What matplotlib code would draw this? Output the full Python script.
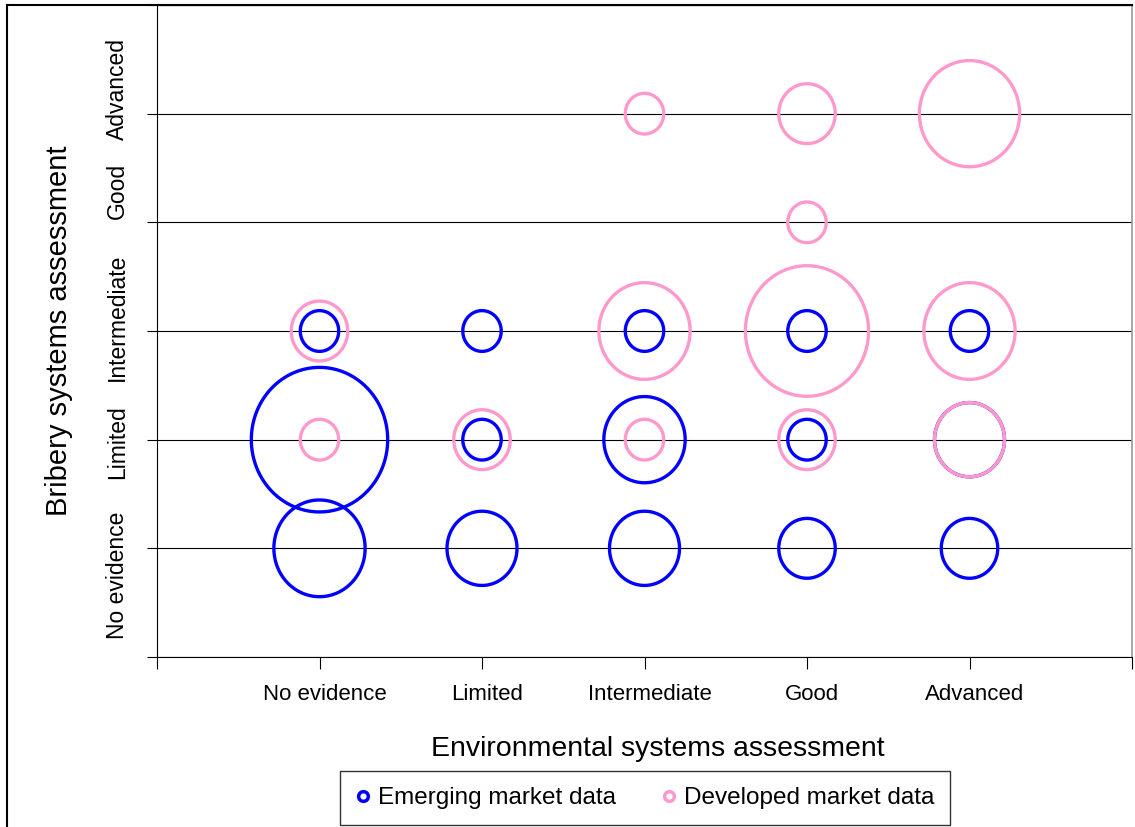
import numpy as np
import matplotlib
matplotlib.use("Agg")
import matplotlib.pyplot as plt
from matplotlib.path import Path
from matplotlib.lines import Line2D
import matplotlib.transforms as mtransforms

plt.rcParams['font.family'] = ['Liberation Sans', 'DejaVu Sans']

levels = ["No evidence", "Limited", "Intermediate", "Good", "Advanced"]

# emerging market data: environmental level, bribery level, count
em_x = [1, 1, 1, 2, 2, 2, 3, 3, 3, 4, 4, 4, 5, 5, 5]
em_y = [1, 2, 3, 1, 2, 3, 1, 2, 3, 1, 2, 3, 1, 2, 3]
em_n = [5, 11, 1, 3, 1, 1, 3, 4, 1, 2, 1, 1, 2, 3, 1]

# developed market data
dv_x = [1, 1, 2, 3, 3, 3, 4, 4, 4, 4, 5, 5, 5]
dv_y = [2, 3, 2, 2, 3, 5, 2, 3, 4, 5, 2, 3, 5]
dv_n = [1, 2, 2, 1, 5, 1, 2, 9, 1, 2, 3, 5, 6]

blue = "#0000FF"
pink = "#FF99CC"

# slightly tall ellipse, like the original rendering
stretch = 1.06
t = np.linspace(0, 2 * np.pi, 120)
ell = Path(np.column_stack([np.cos(t), stretch * np.sin(t)]), closed=True)


def bubble_size(n):
    n = np.asarray(n, dtype=float)
    r_px = np.sqrt(428 * n - 59)          # horizontal radius in pixels
    d_pt = 2 * stretch * r_px * 0.72      # vertical diameter in points
    return d_pt ** 2


fig = plt.figure(figsize=(11.35, 8.27), dpi=100)
ax = fig.add_axes([157 / 1135, 1 - 657 / 827, (1132 - 157) / 1135, (657 - 5) / 827])

ax.scatter(em_x, em_y, s=bubble_size(em_n), marker=ell, facecolors="none",
           edgecolors=blue, linewidths=2.4, zorder=3, clip_on=False)
ax.scatter(dv_x, dv_y, s=bubble_size(dv_n), marker=ell, facecolors="none",
           edgecolors=pink, linewidths=2.4, zorder=4, clip_on=False)

ax.set_xlim(0, 6)
ax.set_ylim(0, 6)

ax.set_xticks(range(7))
ax.set_xticklabels([""] + levels + [""], fontsize=16)
ax.set_yticks(range(7))
ax.set_yticklabels([""] + levels + [""], fontsize=16.5, rotation=90, va="center")

ax.tick_params(axis="x", direction="out", length=8.5, width=0.8, pad=11)
ax.tick_params(axis="y", direction="out", length=7, width=0.8, pad=13)

# small shifts of tick labels as in the original
for lab in ax.get_xticklabels():
    lab.set_transform(lab.get_transform() +
                      mtransforms.ScaledTranslation(5 / 100, 0, fig.dpi_scale_trans))
y_shift = [0, -27, -2, 14, 31, 25, 0]
for lab, dy in zip(ax.get_yticklabels(), y_shift):
    lab.set_transform(lab.get_transform() +
                      mtransforms.ScaledTranslation(0, dy / 100, fig.dpi_scale_trans))

ax.yaxis.grid(True, color="black", linewidth=0.8)
ax.set_axisbelow(True)

for side in ["left", "bottom", "top"]:
    ax.spines[side].set_color("black")
    ax.spines[side].set_linewidth(0.8)
ax.spines["right"].set_color("#999999")
ax.spines["right"].set_linewidth(1.2)

ax.set_xlabel("Environmental systems assessment", fontsize=20.5, labelpad=22)
ax.xaxis.label.set_x(0.514)
ax.set_ylabel("Bribery systems assessment", fontsize=21, labelpad=24)

# chart frame
fig.add_artist(Line2D([7 / 1135, 7 / 1135], [0, 1 - 5 / 827], color="black", lw=1.5,
                      transform=fig.transFigure))
fig.add_artist(Line2D([7 / 1135, 1132 / 1135], [1 - 5 / 827, 1 - 5 / 827], color="black",
                      lw=1.5, transform=fig.transFigure))

handles = [
    Line2D([], [], linestyle="none", marker="o", markersize=7, markerfacecolor="white",
           markeredgecolor=blue, markeredgewidth=2.5, label="Emerging market data"),
    Line2D([], [], linestyle="none", marker="o", markersize=7, markerfacecolor="white",
           markeredgecolor=pink, markeredgewidth=2.5, label="Developed market data"),
]
leg = fig.legend(handles=handles, loc="center", bbox_to_anchor=(645 / 1135, 1 - 798 / 827),
                 ncol=2, fontsize=17.5, frameon=True, fancybox=False, edgecolor="black",
                 handlelength=0.6, handletextpad=0.3, columnspacing=1.9, borderpad=0.65,
                 borderaxespad=0)
leg.get_frame().set_linewidth(1)

fig.savefig("out.png", dpi=100)
